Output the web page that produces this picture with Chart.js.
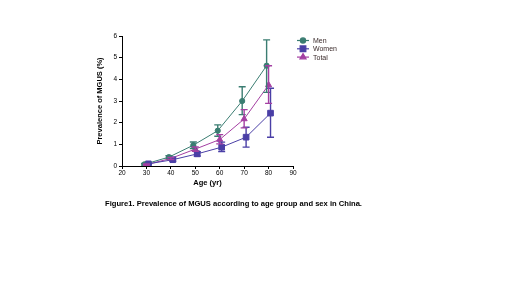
<!DOCTYPE html>
<html><head><meta charset="utf-8">
<script src="https://cdn.jsdelivr.net/npm/chart.js@4"></script>
<style>
html,body{margin:0;padding:0;background:#fff;width:520px;height:292px;overflow:hidden;}
#wrap{position:relative;width:520px;height:292px;}
#c{position:absolute;left:0;top:0;}
#cap{position:absolute;left:105px;top:199px;font-family:"Liberation Sans",Arial,sans-serif;font-weight:bold;font-size:7.6px;color:#000;white-space:nowrap;}
</style></head>
<body><div id="wrap"><canvas id="c" width="520" height="292"></canvas>
<div id="cap">Figure1. Prevalence of MGUS according to age group and sex in China.</div></div>
<script>
const ages = [30, 40, 50, 60, 70, 80];
const seriesNames = ["Men", "Women", "Total"];
const menVals   = [0.08, 0.41, 0.96, 1.63, 3.00, 4.63];
const menHigh   = [0.12, 0.47, 1.11, 1.90, 3.66, 5.82];
const menLow    = [0.04, 0.35, 0.81, 1.37, 2.37, 3.40];
const womenVals = [0.10, 0.29, 0.56, 0.87, 1.33, 2.44];
const womenHigh = [0.14, 0.36, 0.66, 1.10, 1.79, 3.59];
const womenLow  = [0.06, 0.22, 0.46, 0.67, 0.87, 1.33];
const totalVals = [0.06, 0.35, 0.78, 1.22, 2.17, 3.74];
const totalHigh = [0.09, 0.40, 0.88, 1.45, 2.60, 4.63];
const totalLow  = [0.03, 0.30, 0.68, 1.02, 1.76, 2.89];
const xTicks = [20, 30, 40, 50, 60, 70, 80, 90];
const yTicks = [0, 1, 2, 3, 4, 5, 6];

const styles = [
  {color:'#3b7d72', point:'circle', r:2.6, dodge:-0.8},
  {color:'#4a3fa6', point:'rect', r:4, dodge:0.8},
  {color:'#a43fa2', point:'triangle', r:3.5, dodge:0}
];
const vals=[menVals,womenVals,totalVals], highs=[menHigh,womenHigh,totalHigh], lows=[menLow,womenLow,totalLow];

const datasets = seriesNames.map((n,i)=>({
  label:n,
  data: ages.map((a,j)=>({x:a+styles[i].dodge, y:vals[i][j], hi:highs[i][j], lo:lows[i][j]})),
  borderColor:styles[i].color, backgroundColor:styles[i].color,
  pointStyle:styles[i].point, pointRadius:styles[i].r, pointBorderWidth:1,
  borderWidth:1, tension:0, showLine:true
}));

const errorBars = {
  id:'errorBars',
  afterDatasetsDraw(chart){
    const ctx=chart.ctx, xs=chart.scales.x, ys=chart.scales.y;
    chart.data.datasets.forEach((ds)=>{
      ctx.save(); ctx.strokeStyle=ds.borderColor; ctx.lineWidth=1.4;
      ds.data.forEach(p=>{
        const x=xs.getPixelForValue(p.x), yh=ys.getPixelForValue(p.hi), yl=ys.getPixelForValue(p.lo);
        ctx.beginPath();
        ctx.moveTo(x,yh); ctx.lineTo(x,yl);
        ctx.moveTo(x-3.5,yh); ctx.lineTo(x+3.5,yh);
        ctx.moveTo(x-3.5,yl); ctx.lineTo(x+3.5,yl);
        ctx.stroke();
      });
      ctx.restore();
    });
  }
};

const legendPlugin = {
  id:'customLegend',
  afterDraw(chart){
    const ctx=chart.ctx; const x0=297, y0=40.5, dy=8.3;
    chart.data.datasets.forEach((ds,i)=>{
      const y=y0+i*dy;
      ctx.save();
      ctx.strokeStyle=ds.borderColor; ctx.fillStyle=ds.backgroundColor; ctx.lineWidth=1.2;
      ctx.beginPath(); ctx.moveTo(x0,y); ctx.lineTo(x0+12,y); ctx.stroke();
      Chart.helpers.drawPoint(ctx,{pointStyle:ds.pointStyle,radius:ds.pointRadius,borderWidth:1},x0+6,y);
      ctx.fillStyle='#3a2a2a'; ctx.font='7px "Liberation Sans", Arial, sans-serif';
      ctx.textBaseline='middle'; ctx.fillText(ds.label,x0+16,y+0.5);
      ctx.restore();
    });
  }
};

new Chart(document.getElementById('c'),{
  type:'scatter',
  data:{datasets},
  options:{
    responsive:false, animation:false, devicePixelRatio:1,
    layout:{padding:{left:95,top:36,right:227,bottom:105}},
    plugins:{legend:{display:false},tooltip:{enabled:false}},
    scales:{
      x:{type:'linear',min:20,max:90,
        afterBuildTicks(s){s.ticks=xTicks.map(v=>({value:v}));},
        afterFit(s){s.height=21;},
        grid:{drawOnChartArea:false,drawTicks:true,tickLength:3,color:'#000'},
        border:{color:'#000',width:1},
        ticks:{color:'#000',font:{size:6.5,family:'"Liberation Sans", Arial'},padding:0,maxRotation:0},
        title:{display:true,text:'Age (yr)',color:'#000',font:{size:7.5,weight:'bold',family:'"Liberation Sans", Arial'},padding:{top:1,bottom:0}}
      },
      y:{min:0,max:6,
        afterBuildTicks(s){s.ticks=yTicks.map(v=>({value:v}));},
        afterFit(s){s.width=27;},
        grid:{drawOnChartArea:false,drawTicks:true,tickLength:3,color:'#000'},
        border:{color:'#000',width:1},
        ticks:{color:'#000',font:{size:6.5,family:'"Liberation Sans", Arial'},padding:2},
        title:{display:true,text:'Prevalence of MGUS (%)',color:'#000',font:{size:7.5,weight:'bold',family:'"Liberation Sans", Arial'},padding:{top:0,bottom:2}}
      }
    }
  },
  plugins:[errorBars,legendPlugin]
});
</script></body></html>
